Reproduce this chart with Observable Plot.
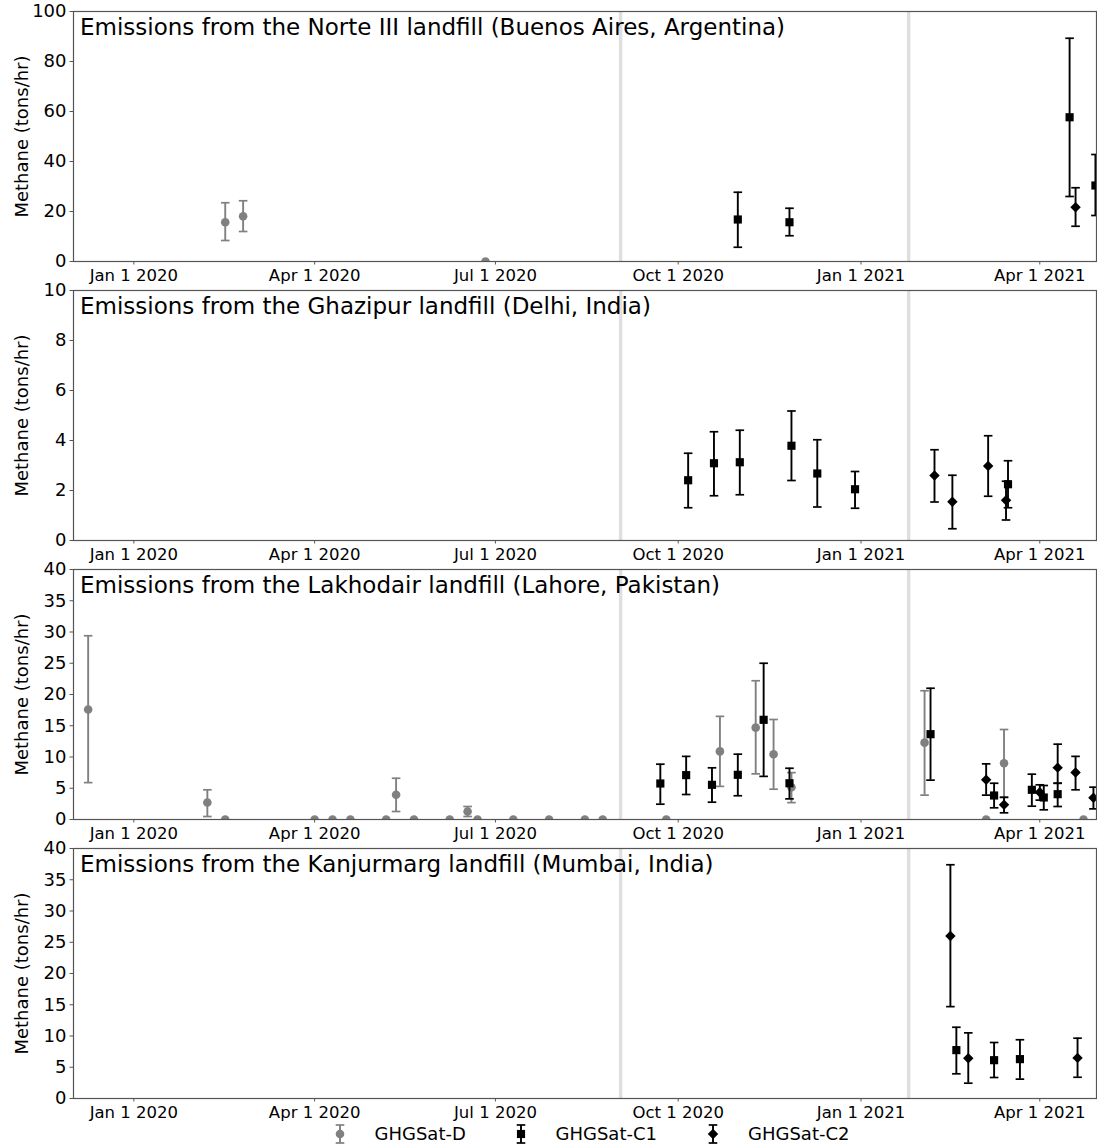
<!DOCTYPE html>
<html>
<head>
<meta charset="utf-8">
<script src="https://cdn.jsdelivr.net/npm/d3@7"></script>
<script src="https://cdn.jsdelivr.net/npm/@observablehq/plot@0.6"></script>
<style>
  body { margin: 0; background: #fff; font-family: "DejaVu Sans", sans-serif; }
  #chart { width: 1097px; height: 1146px; position: relative; overflow: hidden; }
  .panel { position: absolute; left: 0; }
</style>
</head>
<body>
<div id="chart"></div>
<script>
// ---------- data ----------
const seriesNames = ["GHGSat-D", "GHGSat-C1", "GHGSat-C2"];
const titles = [
  "Emissions from the Norte III landfill (Buenos Aires, Argentina)",
  "Emissions from the Ghazipur landfill (Delhi, India)",
  "Emissions from the Lakhodair landfill (Lahore, Pakistan)",
  "Emissions from the Kanjurmarg landfill (Mumbai, India)"
];
const yLabel = "Methane (tons/hr)";
const yMaxes = [100, 10, 40, 40];
const yTicks = [
  [0, 20, 40, 60, 80, 100],
  [0, 2, 4, 6, 8, 10],
  [0, 5, 10, 15, 20, 25, 30, 35, 40],
  [0, 5, 10, 15, 20, 25, 30, 35, 40]
];
const xDomain = ["2019-12-01T15:00Z", "2021-04-29T13:00Z"];
const xTicks = ["2020-01-01", "2020-04-01", "2020-07-01", "2020-10-01", "2021-01-01", "2021-04-01"];
const sepDates = ["2020-09-02", "2021-01-25"];

// [date, value, low, high]
const norteD = [
  ["2020-02-16", 15.7, 8.4, 23.5],
  ["2020-02-25", 18.1, 12.0, 24.3],
  ["2020-06-26", 0, 0, 0]
];
const norteC1 = [
  ["2020-10-31", 16.8, 5.7, 27.7],
  ["2020-11-26", 15.7, 10.3, 21.3],
  ["2021-04-16", 57.7, 26.0, 89.3],
  ["2021-04-29", 30.4, 18.4, 42.8]
];
const norteC2 = [
  ["2021-04-19", 21.7, 14.1, 29.5]
];

const ghazipurD = [];
const ghazipurC1 = [
  ["2020-10-06", 2.41, 1.31, 3.49],
  ["2020-10-19", 3.09, 1.79, 4.35],
  ["2020-11-01", 3.13, 1.83, 4.41],
  ["2020-11-27", 3.79, 2.40, 5.18],
  ["2020-12-10", 2.68, 1.34, 4.03],
  ["2020-12-29", 2.05, 1.29, 2.76],
  ["2021-03-16", 2.25, 1.31, 3.19]
];
const ghazipurC2 = [
  ["2021-02-07", 2.60, 1.54, 3.63],
  ["2021-02-16", 1.55, 0.47, 2.61],
  ["2021-03-06", 2.98, 1.77, 4.19],
  ["2021-03-15", 1.61, 0.82, 2.37]
];

const lakhodairD = [
  ["2019-12-09", 17.6, 5.9, 29.4],
  ["2020-02-07", 2.72, 0.48, 4.75],
  ["2020-02-16", 0, 0, 0],
  ["2020-04-01", 0, 0, 0],
  ["2020-04-10", 0, 0, 0],
  ["2020-04-19", 0, 0, 0],
  ["2020-05-07", 0, 0, 0],
  ["2020-05-12", 3.95, 1.28, 6.6],
  ["2020-05-21", 0, 0, 0],
  ["2020-06-08", 0, 0, 0],
  ["2020-06-17", 1.28, 0.48, 2.08],
  ["2020-06-22", 0, 0, 0],
  ["2020-07-10", 0, 0, 0],
  ["2020-07-28", 0, 0, 0],
  ["2020-08-15", 0, 0, 0],
  ["2020-08-24", 0, 0, 0],
  ["2020-09-25", 0, 0, 0],
  ["2020-10-22", 10.9, 5.3, 16.5],
  ["2020-11-09", 14.7, 7.3, 22.2],
  ["2020-11-18", 10.45, 4.85, 16.0],
  ["2020-11-27", 5.17, 2.7, 7.5],
  ["2021-02-02", 12.3, 3.9, 20.6],
  ["2021-03-05", 0, 0, 0],
  ["2021-03-14", 9.0, 3.5, 14.4],
  ["2021-04-23", 0, 0, 0]
];
const lakhodairC1 = [
  ["2020-09-22", 5.76, 2.45, 8.85],
  ["2020-10-05", 7.1, 4.0, 10.1],
  ["2020-10-18", 5.55, 2.77, 8.27],
  ["2020-10-31", 7.15, 3.8, 10.45],
  ["2020-11-13", 15.95, 6.9, 25.0],
  ["2020-11-26", 5.8, 3.3, 8.2],
  ["2021-02-05", 13.65, 6.3, 21.0],
  ["2021-03-09", 3.84, 1.87, 5.8],
  ["2021-03-28", 4.75, 2.13, 7.25],
  ["2021-04-03", 3.52, 1.55, 5.44],
  ["2021-04-10", 4.05, 2.08, 5.8]
];
const lakhodairC2 = [
  ["2021-03-05", 6.35, 3.9, 8.9],
  ["2021-03-14", 2.35, 1.07, 3.57],
  ["2021-04-01", 4.37, 3.1, 5.55],
  ["2021-04-10", 8.3, 5.8, 12.05],
  ["2021-04-19", 7.52, 4.75, 10.1],
  ["2021-04-28", 3.47, 1.7, 5.17]
];

const kanjurmargD = [];
const kanjurmargC1 = [
  ["2021-02-18", 7.74, 3.95, 11.4],
  ["2021-03-09", 6.13, 3.36, 8.96],
  ["2021-03-22", 6.3, 3.1, 9.4]
];
const kanjurmargC2 = [
  ["2021-02-15", 26.0, 14.7, 37.4],
  ["2021-02-24", 6.45, 2.45, 10.5],
  ["2021-04-20", 6.5, 3.4, 9.65]
];

const panels = [
  [norteD, norteC1, norteC2],
  [ghazipurD, ghazipurC1, ghazipurC2],
  [lakhodairD, lakhodairC1, lakhodairC2],
  [kanjurmargD, kanjurmargC1, kanjurmargC2]
];

// ---------- styles ----------
const GRAY = "#808080";
const seriesStyle = [
  {color: GRAY, symbol: "circle", r: 4.3},
  {color: "#000", symbol: "square", r: 4.6},
  {color: "#000", symbol: "diamond2", r: 4.7}
];
const capSymbol = { draw(ctx) { ctx.moveTo(-4.3, 0); ctx.lineTo(4.3, 0); } };
const FONT = "'DejaVu Sans', sans-serif";

const panelH = 279;
const chart = document.getElementById("chart");

function toRecs(arr) {
  return arr.map(([d, v, lo, hi]) => ({date: new Date(d), v, lo, hi}));
}

panels.forEach((series, pi) => {
  const seriesMarks = [];
  series.forEach((arr, si) => {
    const st = seriesStyle[si];
    const recs = toRecs(arr);
    const bars = recs.filter(r => r.hi > r.lo);
    seriesMarks.push(
      Plot.ruleX(bars, {x: "date", y1: "lo", y2: "hi", stroke: st.color, strokeWidth: 1.9, clip: true}),
      Plot.dot(bars, {x: "date", y: "lo", symbol: capSymbol, stroke: st.color, strokeWidth: 1.7, fill: "none", clip: true}),
      Plot.dot(bars, {x: "date", y: "hi", symbol: capSymbol, stroke: st.color, strokeWidth: 1.7, fill: "none", clip: true}),
      Plot.dot(recs, {x: "date", y: "v", symbol: st.symbol, r: st.r, fill: st.color, stroke: "none", clip: true})
    );
  });

  const svg = Plot.plot({
    width: 1097,
    height: panelH,
    marginLeft: 73,
    marginRight: 1,
    marginTop: 11,
    marginBottom: 18,
    style: {fontFamily: FONT, fontSize: "16.5px", overflow: "visible", background: "transparent", color: "#000"},
    x: {type: "utc", domain: xDomain.map(s => new Date(s))},
    y: {domain: [0, yMaxes[pi]]},
    marks: [
      Plot.ruleX(sepDates.map(s => new Date(s)), {stroke: "#dfdfdf", strokeWidth: 3.5}),
      ...seriesMarks,
      Plot.frame({stroke: "#555", strokeWidth: 1.2}),
      Plot.axisX({
        ticks: xTicks.map(s => new Date(s)),
        tickFormat: d3.utcFormat("%b %-d %Y"),
        tickSize: 3.5,
        tickPadding: 4,
        fontSize: 16.5,
        label: null,
        stroke: "#555"
      }),
      Plot.axisY({
        ticks: yTicks[pi],
        tickSize: 3.5,
        tickPadding: 3.5,
        fontSize: 18,
        label: null,
        stroke: "#555"
      }),
      Plot.text([titles[pi]], {
        frameAnchor: "top-left", text: d => d, dx: 6.5, dy: 7,
        textAnchor: "start", lineAnchor: "top", fontSize: 23, fill: "#000"
      }),
      Plot.text([yLabel], {
        frameAnchor: "left", text: d => d, dx: -51, rotate: -90,
        textAnchor: "middle", lineAnchor: "middle", fontSize: 18, fill: "#000"
      })
    ]
  });
  svg.classList.add("panel");
  svg.style.top = (pi * panelH) + "px";
  chart.appendChild(svg);
});

// ---------- legend ----------
const legendX = [340, 521, 713];
const legendTextX = [374.5, 555.5, 748];
const lg = d3.select(chart).append("svg")
  .attr("width", 1097).attr("height", 30)
  .style("position", "absolute").style("left", "0px").style("top", (4 * panelH) + "px")
  .style("overflow", "visible");
seriesNames.forEach((name, i) => {
  const st = seriesStyle[i];
  const cx = legendX[i], cy = 18;
  const g = lg.append("g");
  g.append("line").attr("x1", cx).attr("x2", cx).attr("y1", cy - 9).attr("y2", cy + 9)
    .attr("stroke", st.color).attr("stroke-width", 1.9);
  [cy - 9, cy + 9].forEach(y => g.append("line").attr("x1", cx - 4.3).attr("x2", cx + 4.3)
    .attr("y1", y).attr("y2", y).attr("stroke", st.color).attr("stroke-width", 1.7));
  const symType = i === 0 ? d3.symbolCircle : i === 1 ? d3.symbolSquare : d3.symbolDiamond2;
  g.append("path").attr("d", d3.symbol(symType, st.r * st.r * Math.PI)())
    .attr("transform", `translate(${cx},${cy})`).attr("fill", st.color);
  g.append("text").attr("x", legendTextX[i]).attr("y", cy).attr("dy", "0.35em")
    .attr("font-family", FONT).attr("font-size", 18).attr("fill", "#000").text(name);
});
</script>
</body>
</html>
